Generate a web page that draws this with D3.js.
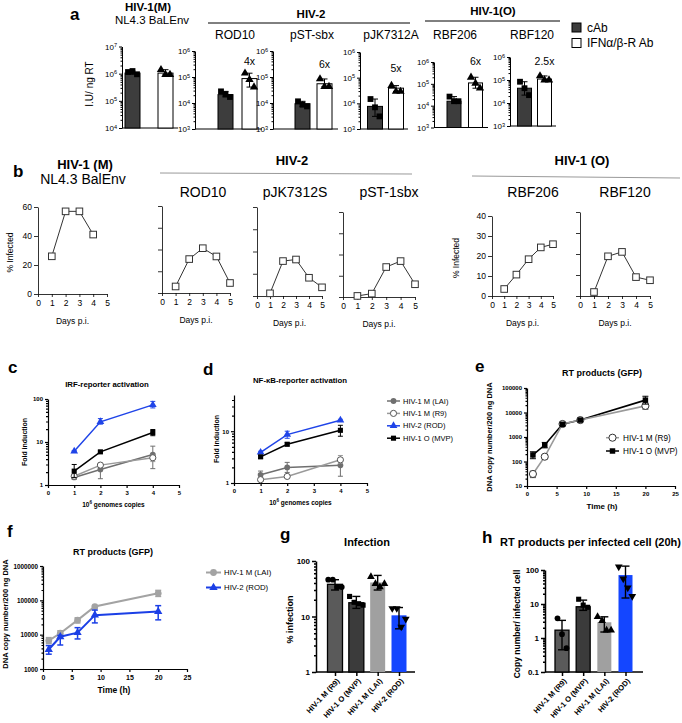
<!DOCTYPE html>
<html><head><meta charset="utf-8">
<script src="https://cdn.jsdelivr.net/npm/d3@7"></script>
<style>body{margin:0;background:#fff}svg{display:block}</style>
</head><body>
<svg id="chart" width="682" height="723"></svg>
<script>
// ================= DATA =================
// Panel a
const aStrains = ["NL4.3 BaLEnv","ROD10","pST-sbx","pJK7312A","RBF206","RBF120"];
const aGroups = ["cAb","IFNα/β-R Ab"];
const aCAb = [1.05e6, 2.1e4, 9.4e3, 7.6e3, 1.6e4, 4.4e4];
const aIFN = [1.05e6, 8.7e4, 5.5e4, 3.9e4, 1.1e5, 1.1e5];
const aCAbPts = [[1.15e6,1.25e6,0.95e6],[2.8e4,2.2e4,1.7e4],[1.16e4,8.6e3,7.4e3],[1.47e4,7e3,3.1e3],[2.6e4,1.6e4,1.6e4],[8.4e4,4.4e4,2.2e4]];
const aIFNPts = [[1.4e6,0.92e6,0.92e6],[1.4e5,8e4,4.1e4],[8.4e4,4.3e4,4.3e4],[4.9e4,2.9e4,2.9e4],[2e5,1.05e5,6.3e4],[1.5e5,1.0e5,1.0e5]];
const aFold = ["","4x","6x","5x","6x","2.5x"];
const aYMin = [1e4,1e3,1e3,1e3,1e3,1e3];
const aYMax = [1e7,1e6,1e6,1e6,1e6,1e6];

// Panel b (% infected, days p.i.)
const bTitles = ["","ROD10","pJK7312S","pST-1sbx","RBF206","RBF120"];
const bDays = [[1,2,3,4],[1,2,3,4,5],[1,2,3,4,5],[1,2,3,4,5],[1,2,3,4,5],[1,2,3,4,5]];
const bNL43 = [26,57,57,41];
const bROD10 = [3,15.6,20.6,16.8,4.6];
const bPJK = [1.2,15.7,16.4,8.2,3.9];
const bPST = [0.5,1.6,14.1,16.9,6];
const bRBF206 = [3.5,10.7,18.4,24.3,25.9];
const bRBF120 = [1.9,18.9,21,9,7.5];
const bYMax = [60,40,40,40,40,40];

// Panels c, d (fold induction vs 10^6 genome copies)
const cdNames = ["HIV-1 M (LAI)","HIV-1 M (R9)","HIV-2 (ROD)","HIV-1 O (MVP)"];
const cdDose = [1,2,4];
const cLAI = [1.5,2.3,5.1],  cLAIerr = [[1.35,1.7],[1.4,3.1],[2.4,8.0]];
const cR9  = [1.6,2.9,4.3],  cR9err  = [[1.45,1.75],[2.6,3.2],[3.5,5.0]];
const cROD = [6.1,29.5,73],  cRODerr = [[5.9,6.3],[26,35],[62,88]];
const cMVP = [2.1,5.9,16.6], cMVPerr = [[1.5,3.0],[5.6,6.2],[14,19.5]];
const dLAI = [1.44,2.0,2.2], dLAIerr = [[1.25,1.7],[1.6,2.5],[1.35,3.0]];
const dR9  = [1.16,1.34,2.8], dR9err = [[1.1,1.22],[1.3,1.38],[2.4,3.4]];
const dROD = [3.9,8.6,16.3], dRODerr = [[3.7,4.1],[7.3,10],[15.5,17]];
const dMVP = [3.2,5.6,10.4], dMVPerr = [[3.0,3.4],[5.2,6.0],[8.0,13]];

// Panel e, f (RT products)
const efTime = [1,3,6,9,20];
const eR9  = [31,157,3400,4900,18600];
const eR9err = [[22,40],[130,180],[3000,3800],[4400,5400],[13500,24000]];
const eMVP = [185,470,3300,4900,32000];
const eMVPerr = [[130,250],[360,600],[3000,3700],[4500,5300],[22000,46000]];
const fLAI = [6700,11000,26500,66000,160000];
const fLAIerr = [[5500,8200],[9500,13000],[22000,31000],[58000,70000],[130000,195000]];
const fROD = [3700,8700,11400,37000,47000];
const fRODerr = [[2700,4800],[5000,9500],[7500,16000],[22000,52000],[27000,70000]];

// Panels g, h (bars)
const ghNames = ["HIV-1 M (R9)","HIV-1 O (MVP)","HIV-1 M (LAI)","HIV-2 (ROD)"];
const gMeans = [38,17.7,41,10.5];
const gErr = [[30,46],[14,23],[30,55],[6,14.5]];
const gPts = [[46,46,34,34],[23,18,17,16],[52,39,34,39],[14,14,6.5,9]];
const hMeans = [1.7,8.3,2.9,71];
const hErr = [[0.45,3.3],[6.5,13],[1.5,4.2],[15,130]];
const hPts = [[3.8,1.3,0.5],[13.8,9.3,8.0],[4.2,3.2,1.7,1.7],[125,55,30,17]];

// ================= HELPERS =================
const svg = d3.select("#chart");
const F = '"Liberation Sans", Arial, Helvetica, sans-serif';
const BLUE = "#1f44e8";

function T(x, y, s, size, o = {}) {
  const t = svg.append("text").attr("x", x).attr("y", y)
    .attr("font-family", F).attr("font-size", size)
    .attr("font-weight", o.bold ? "bold" : "normal")
    .attr("text-anchor", o.anchor || "start").attr("fill", o.fill || "#000");
  if (o.rot) t.attr("transform", `rotate(${o.rot},${x},${y})`);
  if (s !== "") t.text(s);
  return t;
}
function supText(x, y, base, sup, rest, size, o = {}) {
  const t = T(x, y, "", size, o);
  t.append("tspan").text(base);
  t.append("tspan").attr("dy", -size * 0.4).attr("font-size", size * 0.7).text(sup);
  t.append("tspan").attr("dy", size * 0.4).text(rest);
  return t;
}
function logMinor(lo, hi) {
  const out = [];
  for (let e = Math.floor(Math.log10(lo) + 1e-9); e < Math.ceil(Math.log10(hi) - 1e-9); e++)
    for (let k = 2; k <= 9; k++) { const v = k * Math.pow(10, e); if (v > lo * 1.0001 && v < hi * 0.9999) out.push(v); }
  return out;
}
function styleAxis(g, o) {
  g.attr("font-family", F).attr("font-size", o.fs || 8).attr("font-weight", o.bold ? "bold" : "normal");
  g.selectAll("path,line").attr("stroke", "#000").attr("stroke-width", o.sw || 1);
}
function axisY(scale, x, o) {
  const g = svg.append("g").attr("transform", `translate(${x},0)`);
  g.call(d3.axisLeft(scale).tickValues(o.ticks).tickSize(o.len ?? 4).tickSizeOuter(0)
    .tickPadding(o.pad ?? 2).tickFormat(o.fmt || (d => d)));
  styleAxis(g, o);
  if (o.minor) {
    const g2 = svg.append("g").attr("transform", `translate(${x},0)`);
    g2.call(d3.axisLeft(scale).tickValues(o.minor).tickSize(o.minLen ?? 2).tickFormat(""));
    g2.select(".domain").remove();
    g2.selectAll("line").attr("stroke", "#000").attr("stroke-width", o.sw || 1);
  }
  return g;
}
function axisX(scale, y, o) {
  const g = svg.append("g").attr("transform", `translate(0,${y})`);
  g.call(d3.axisBottom(scale).tickValues(o.ticks).tickSize(o.len ?? 3).tickSizeOuter(0)
    .tickPadding(o.pad ?? 2).tickFormat(o.fmt || (d => d)));
  styleAxis(g, o);
  return g;
}
function sym(type, size, x, y, fill, stroke, sw) {
  svg.append("path").attr("d", d3.symbol(type, size)())
    .attr("transform", `translate(${x},${y})`)
    .attr("fill", fill).attr("stroke", stroke || "none").attr("stroke-width", sw || 1);
}
const triDown = { draw(ctx, size) { const h = Math.sqrt(size * 4 / Math.sqrt(3)); const r = h / Math.sqrt(3);
  ctx.moveTo(-h / 2, -r / 2); ctx.lineTo(h / 2, -r / 2); ctx.lineTo(0, r); ctx.closePath(); } };
function errBar(x, y1, y2, cap, color, sw) {
  svg.append("line").attr("x1", x).attr("x2", x).attr("y1", y1).attr("y2", y2).attr("stroke", color).attr("stroke-width", sw);
  [y1, y2].forEach(yy => svg.append("line").attr("x1", x - cap).attr("x2", x + cap).attr("y1", yy).attr("y2", yy)
    .attr("stroke", color).attr("stroke-width", sw));
}

// ================= PANEL A =================
T(70, 20, "a", 17, { bold: true });
T(148, 10.5, "HIV-1(M)", 11.5, { bold: true, anchor: "middle" });
T(152, 24, aStrains[0], 11.5, { anchor: "middle" });
T(311, 18, "HIV-2", 11.5, { bold: true, anchor: "middle" });
svg.append("line").attr("x1", 208).attr("x2", 410).attr("y1", 23).attr("y2", 23).attr("stroke", "#000").attr("stroke-width", 1);
T(493, 15, "HIV-1(O)", 11.5, { bold: true, anchor: "middle" });
svg.append("line").attr("x1", 425).attr("x2", 560).attr("y1", 21).attr("y2", 21).attr("stroke", "#000").attr("stroke-width", 1);
T(93, 84, "I.U/ ng RT", 10, { anchor: "middle", rot: -90 });

const aLayout = [
  { ax: 122, end: 178, c: [132.5, 165.5], top: 46.5, bot: 128, fy: 0, sx: 0 },
  { ax: 195, end: 262, c: [225.5, 249.5], top: 51, bot: 129, fy: 65, sx: 235 },
  { ax: 273, end: 338, c: [302.5, 324.5], top: 51, bot: 129, fy: 68, sx: 312 },
  { ax: 360, end: 408, c: [375, 396], top: 52, bot: 129, fy: 72, sx: 391 },
  { ax: 434, end: 488, c: [454, 475.5], top: 62, bot: 127.5, fy: 65, sx: 455 },
  { ax: 510, end: 556, c: [524.5, 544.5], top: 57, bot: 126, fy: 65, sx: 532 },
];
aStrains.forEach((s, i) => {
  const L = aLayout[i];
  const y = d3.scaleLog().domain([aYMin[i], aYMax[i]]).range([L.bot, L.top]);
  const x = d3.scalePoint().domain(aGroups).range(L.c);
  if (i > 0) T(L.sx, 39, s, 12, { anchor: "middle" });
  const ticks = [aYMin[i], aYMin[i] * 10, aYMin[i] * 100, aYMax[i]];
  const g = axisY(y, L.ax, { ticks, fs: 8, len: 3, minor: logMinor(aYMin[i], aYMax[i]), minLen: 1.5, sw: 1 });
  g.selectAll(".tick text").each(function (d) {
    const t = d3.select(this); t.text("10");
    t.append("tspan").attr("dy", "-0.45em").attr("font-size", "0.7em").text(Math.round(Math.log10(d)));
  });
  svg.append("line").attr("x1", L.ax).attr("x2", L.end).attr("y1", L.bot).attr("y2", L.bot).attr("stroke", "#000");
  const bw = i >= 4 ? 14 : 15;
  [[aCAb[i], aCAbPts[i], "#3d3d3d", d3.symbolSquare], [aIFN[i], aIFNPts[i], "#fff", d3.symbolTriangle]].forEach((b, k) => {
    const cx = x(aGroups[k]);
    svg.append("rect").attr("x", cx - bw / 2).attr("width", bw).attr("y", y(b[0])).attr("height", L.bot - y(b[0]))
      .attr("fill", b[2]).attr("stroke", "#000").attr("stroke-width", 1);
    const ext = d3.extent(b[1]);
    errBar(cx, y(ext[0]), y(ext[1]), 3, "#000", 1);
    b[1].forEach((v, j) => sym(b[3], k === 0 ? 34 : 30, cx + (j - 1) * 4.5, y(v), "#000"));
  });
  if (aFold[i]) T(x(aGroups[1]), L.fy, aFold[i], 10.5, { anchor: "middle" });
});
// legend a
svg.append("rect").attr("x", 572).attr("y", 23).attr("width", 9).attr("height", 9).attr("fill", "#3d3d3d").attr("stroke", "#000");
svg.append("rect").attr("x", 572).attr("y", 38.5).attr("width", 9).attr("height", 9).attr("fill", "#fff").attr("stroke", "#000");
T(587, 32, aGroups[0], 12);
T(587, 47, aGroups[1], 12);

// ================= PANEL B =================
T(13, 177, "b", 17, { bold: true });
T(85, 169, "HIV-1 (M)", 13, { bold: true, anchor: "middle" });
T(83, 184, "NL4.3 BalEnv", 14, { anchor: "middle" });
T(292, 165, "HIV-2", 13, { bold: true, anchor: "middle" });
svg.append("line").attr("x1", 160).attr("x2", 412).attr("y1", 173).attr("y2", 174).attr("stroke", "#999").attr("stroke-width", 1);
T(582, 165, "HIV-1 (O)", 13, { bold: true, anchor: "middle" });
svg.append("line").attr("x1", 472).attr("x2", 680).attr("y1", 176).attr("y2", 178).attr("stroke", "#999").attr("stroke-width", 1);

const bSeries = [bNL43, bROD10, bPJK, bPST, bRBF206, bRBF120];
const bLayout = [
  { x0: 38, x5: 107, y0: 294, yT: 207, lab: true, tx: 0 },
  { x0: 162, x5: 230, y0: 293, yT: 206, lab: false, tx: 203 },
  { x0: 257, x5: 322, y0: 296, yT: 207, lab: false, tx: 295 },
  { x0: 343, x5: 415, y0: 297, yT: 212, lab: false, tx: 389 },
  { x0: 492, x5: 553, y0: 296, yT: 216, lab: true, tx: 533 },
  { x0: 580, x5: 650, y0: 296, yT: 212, lab: false, tx: 625 },
];
bSeries.forEach((vals, i) => {
  const L = bLayout[i];
  const x = d3.scaleLinear().domain([0, 5]).range([L.x0, L.x5]);
  const y = d3.scaleLinear().domain([0, bYMax[i]]).range([L.y0, L.yT]);
  const step = bYMax[i] === 60 ? 20 : 10;
  const ticks = d3.range(0, bYMax[i] + 1, step);
  axisY(y, L.x0, { ticks, len: 4, fs: 8.5, fmt: L.lab ? (d => d) : (() => ""), sw: 0.8 });
  axisX(x, L.y0, { ticks: [0, 1, 2, 3, 4, 5], len: 3, pad: 3, fs: 8.5, sw: 0.8 });
  T((L.x0 + L.x5) / 2, L.y0 + 30, "Days p.i.", 8.5, { anchor: "middle" });
  if (bTitles[i]) T(L.tx, 197, bTitles[i], 14, { anchor: "middle" });
  if (L.lab) T(i === 0 ? 13 : 459, (L.y0 + L.yT) / 2 + 2, "% Infected", 8.5, { anchor: "middle", rot: -90 });
  const line = d3.line().x((d, j) => x(bDays[i][j])).y(d => y(d));
  svg.append("path").attr("d", line(vals)).attr("fill", "none").attr("stroke", "#333").attr("stroke-width", 1);
  vals.forEach((v, j) => svg.append("rect").attr("x", x(bDays[i][j]) - 3.3).attr("y", y(v) - 3.3)
    .attr("width", 6.6).attr("height", 6.6).attr("fill", "#fff").attr("stroke", "#333").attr("stroke-width", 1));
});

// ================= PANELS C, D =================
const cdStyle = [
  { color: "#6f6f6f", type: d3.symbolCircle, size: 26, fill: "#6f6f6f", stroke: "none" },
  { color: "#9a9a9a", type: d3.symbolCircle, size: 30, fill: "#fff", stroke: "#555" },
  { color: BLUE, type: d3.symbolTriangle, size: 26, fill: BLUE, stroke: "none" },
  { color: "#000", type: d3.symbolSquare, size: 26, fill: "#000", stroke: "none" },
];
function cdPanel(L, series, errs) {
  const x = d3.scaleLinear().domain([0, 5]).range([L.x0, L.x5]);
  const y = d3.scaleLog().domain([1, L.max]).range([L.y0, L.yT]);
  axisY(y, L.x0, { ticks: L.ticks, len: 3, fs: 6, bold: true, minor: logMinor(1, L.max), minLen: 2, sw: 1.2 });
  axisX(x, L.y0, { ticks: [0, 1, 2, 3, 4, 5], len: 3, pad: 3, fs: 6, bold: true, sw: 1.2 });
  supText((L.x0 + L.x5) / 2, L.y0 + 22, "10", "6", " genomes copies", 6.5, { bold: true, anchor: "middle" });
  T(L.ylx, (L.y0 + L.yT) / 2, "Fold induction", 7, { bold: true, anchor: "middle", rot: -90 });
  T(L.tcx, L.ty, L.title, 7.8, { bold: true, anchor: "middle" });
  series.forEach((vals, s) => {
    const st = cdStyle[s];
    const line = d3.line().x((d, j) => x(cdDose[j])).y(d => y(d));
    svg.append("path").attr("d", line(vals)).attr("fill", "none").attr("stroke", st.color).attr("stroke-width", 1.5);
    errs[s].forEach((e, j) => errBar(x(cdDose[j]), y(e[0]), y(e[1]), 2.5, st.color, 1));
    vals.forEach((v, j) => sym(st.type, st.size, x(cdDose[j]), y(v), st.fill, st.stroke, 1));
  });
}
T(8, 373, "c", 17, { bold: true });
cdPanel({ x0: 48, x5: 179, y0: 485, yT: 399, max: 100, ticks: [1, 10, 100], ylx: 27, tcx: 107, ty: 387, title: "IRF-reporter activation" },
  [cLAI, cR9, cROD, cMVP], [cLAIerr, cR9err, cRODerr, cMVPerr]);
T(203, 375, "d", 17, { bold: true });
cdPanel({ x0: 234, x5: 367, y0: 483, yT: 395, max: 50, ticks: [1, 10], ylx: 219, tcx: 300, ty: 383, title: "NF-κB-reporter activation" },
  [dLAI, dR9, dROD, dMVP], [dLAIerr, dR9err, dRODerr, dMVPerr]);
// legend c/d
cdNames.forEach((n, i) => {
  const yy = 401 + i * 12.4, st = cdStyle[i];
  svg.append("line").attr("x1", 387).attr("x2", 400).attr("y1", yy).attr("y2", yy).attr("stroke", st.color).attr("stroke-width", 1.5);
  sym(st.type, st.size, 393.5, yy, st.fill, st.stroke, 1);
  T(403, yy + 2.6, n, 7.5);
});

// ================= PANEL E =================
T(475, 372, "e", 17, { bold: true });
{
  const x = d3.scaleLinear().domain([0, 25]).range([527, 675]);
  const y = d3.scaleLog().domain([10, 100000]).range([486, 388]);
  axisY(y, 527, { ticks: [10, 100, 1000, 10000, 100000], len: 3, fs: 6, bold: true, minor: logMinor(10, 100000), minLen: 1.5, sw: 1.2 });
  axisX(x, 486, { ticks: [0, 5, 10, 15, 20, 25], len: 3, pad: 3, fs: 6, bold: true, sw: 1.2 });
  T(602, 509, "Time (h)", 8, { bold: true, anchor: "middle" });
  T(602, 376, "RT products (GFP)", 9, { bold: true, anchor: "middle" });
  T(492, 437, "DNA copy number/200 ng DNA", 7.5, { bold: true, anchor: "middle", rot: -90 });
  const st = [
    { vals: eR9, err: eR9err, color: "#9a9a9a", type: d3.symbolCircle, size: 40, fill: "#fff", stroke: "#333", ec: "#555" },
    { vals: eMVP, err: eMVPerr, color: "#000", type: d3.symbolSquare, size: 30, fill: "#000", stroke: "none", ec: "#000" },
  ];
  st.slice().reverse().forEach(s => {
    const line = d3.line().x((d, j) => x(efTime[j])).y(d => y(d));
    svg.append("path").attr("d", line(s.vals)).attr("fill", "none").attr("stroke", s.color).attr("stroke-width", 1.6);
  });
  st.forEach(s => {
    s.err.forEach((e, j) => errBar(x(efTime[j]), y(e[0]), y(e[1]), 3, s.ec, 1));
    s.vals.forEach((v, j) => sym(s.type, s.size, x(efTime[j]), y(v), s.fill, s.stroke, 1));
  });
  ["HIV-1 M (R9)", "HIV-1 O (MVP)"].forEach((n, i) => {
    const yy = 437.7 + i * 13.3, s = st[i];
    svg.append("line").attr("x1", 606).attr("x2", 619).attr("y1", yy).attr("y2", yy).attr("stroke", s.color).attr("stroke-width", 1.5);
    sym(s.type, s.size, 612.5, yy, s.fill, s.stroke, 1);
    T(623, yy + 3, n, 8.2);
  });
}

// ================= PANEL F =================
T(7, 537, "f", 17, { bold: true });
{
  const x = d3.scaleLinear().domain([0, 25]).range([43, 187]);
  const y = d3.scaleLog().domain([1000, 1000000]).range([669, 566]);
  axisY(y, 43, { ticks: [1000, 10000, 100000, 1000000], len: 3, fs: 6.3, bold: true, minor: logMinor(1000, 1000000), minLen: 1.5, sw: 1.2 });
  axisX(x, 669, { ticks: [0, 5, 10, 15, 20, 25], len: 3, pad: 3, fs: 7, bold: true, sw: 1.2 });
  T(114, 693, "Time (h)", 8.5, { bold: true, anchor: "middle" });
  T(113, 555, "RT products (GFP)", 9, { bold: true, anchor: "middle" });
  T(8, 614, "DNA copy number/200 ng DNA", 7.5, { bold: true, anchor: "middle", rot: -90 });
  const st = [
    { vals: fLAI, err: fLAIerr, color: "#a3a3a3", type: d3.symbolCircle, size: 36 },
    { vals: fROD, err: fRODerr, color: "#1b3fe6", type: d3.symbolTriangle, size: 30 },
  ];
  st.forEach(s => {
    const line = d3.line().x((d, j) => x(efTime[j])).y(d => y(d));
    svg.append("path").attr("d", line(s.vals)).attr("fill", "none").attr("stroke", s.color).attr("stroke-width", 2);
    s.err.forEach((e, j) => errBar(x(efTime[j]), y(e[0]), y(e[1]), 3, s.color, 1.5));
    s.vals.forEach((v, j) => sym(s.type, s.size, x(efTime[j]), y(v), s.color));
  });
  ["HIV-1 M (LAI)", "HIV-2 (ROD)"].forEach((n, i) => {
    const yy = 572.5 + i * 15, s = st[i];
    svg.append("line").attr("x1", 206).attr("x2", 221).attr("y1", yy).attr("y2", yy).attr("stroke", s.color).attr("stroke-width", 2);
    sym(s.type, s.size, 213.5, yy, s.color);
    T(224, yy + 2.8, n, 7.8);
  });
}

// ================= PANELS G, H =================
const ghFill = ["#5a5a5a", "#3b3b3b", "#a0a0a0", "#1446ff"];
const ghStroke = ["#000", "#000", "none", "none"];
const ghSym = [d3.symbolCircle, d3.symbolSquare, d3.symbolTriangle, triDown];
function barPanel(L, means, errs, pts) {
  const x = d3.scalePoint().domain(ghNames).range(L.c);
  const y = d3.scaleLog().domain(L.dom).range([L.y0, L.yT]);
  axisY(y, L.x0, { ticks: L.ticks, len: 4, fs: L.fs, bold: true, fmt: d => (d < 1 ? "0.1" : d), minor: logMinor(L.dom[0], L.dom[1]), minLen: 2, sw: 1.5 });
  const gx = svg.append("g").attr("transform", `translate(0,${L.y0})`);
  gx.call(d3.axisBottom(x).tickSize(4).tickSizeOuter(0));
  gx.select(".domain").remove();
  styleAxis(gx, { fs: 7.6, bold: true, sw: 1.5 });
  gx.selectAll(".tick text").attr("x", 0).attr("y", 0).attr("dy", 0).attr("text-anchor", "end")
    .attr("transform", "translate(4.5,9.5) rotate(-47)");
  svg.append("line").attr("x1", L.x0).attr("x2", L.end).attr("y1", L.y0).attr("y2", L.y0).attr("stroke", "#000").attr("stroke-width", 1.5);
  means.forEach((m, i) => {
    const cx = x(ghNames[i]);
    svg.append("rect").attr("x", cx - L.bw / 2).attr("width", L.bw).attr("y", y(m)).attr("height", L.y0 - y(m))
      .attr("fill", ghFill[i]).attr("stroke", ghStroke[i]).attr("stroke-width", 1.3);
    errBar(cx, y(errs[i][0]), y(errs[i][1]), 4, "#000", 1.4);
    const n = pts[i].length;
    pts[i].forEach((v, j) => sym(ghSym[i], 26, cx + (j - (n - 1) / 2) * 4.5, y(v), "#000"));
  });
  T(L.ylx, (L.y0 + L.yT) / 2 + 3, L.ylab, L.ylfs, { bold: true, anchor: "middle", rot: -90 });
  T(L.tx, L.ty, L.title, 11, { bold: true, anchor: L.tanchor || "middle" });
}
T(280, 540, "g", 17, { bold: true });
barPanel({ x0: 316, end: 415, c: [335, 399], y0: 672, yT: 561, dom: [1, 100], ticks: [1, 10, 100], fs: 8, bw: 15,
  ylx: 293, ylab: "% infection", ylfs: 9, tx: 367, ty: 546, title: "Infection" }, gMeans, gErr, gPts);
T(482, 543, "h", 17, { bold: true });
barPanel({ x0: 545, end: 643, c: [562, 625.5], y0: 672, yT: 570, dom: [0.1, 100], ticks: [0.1, 1, 10, 100], fs: 8, bw: 14,
  ylx: 520, ylab: "Copy number/ infected cell", ylfs: 8.5, tx: 500, ty: 546, title: "RT products per infected cell (20h)", tanchor: "start" },
  hMeans, hErr, hPts);
</script>
</body></html>
